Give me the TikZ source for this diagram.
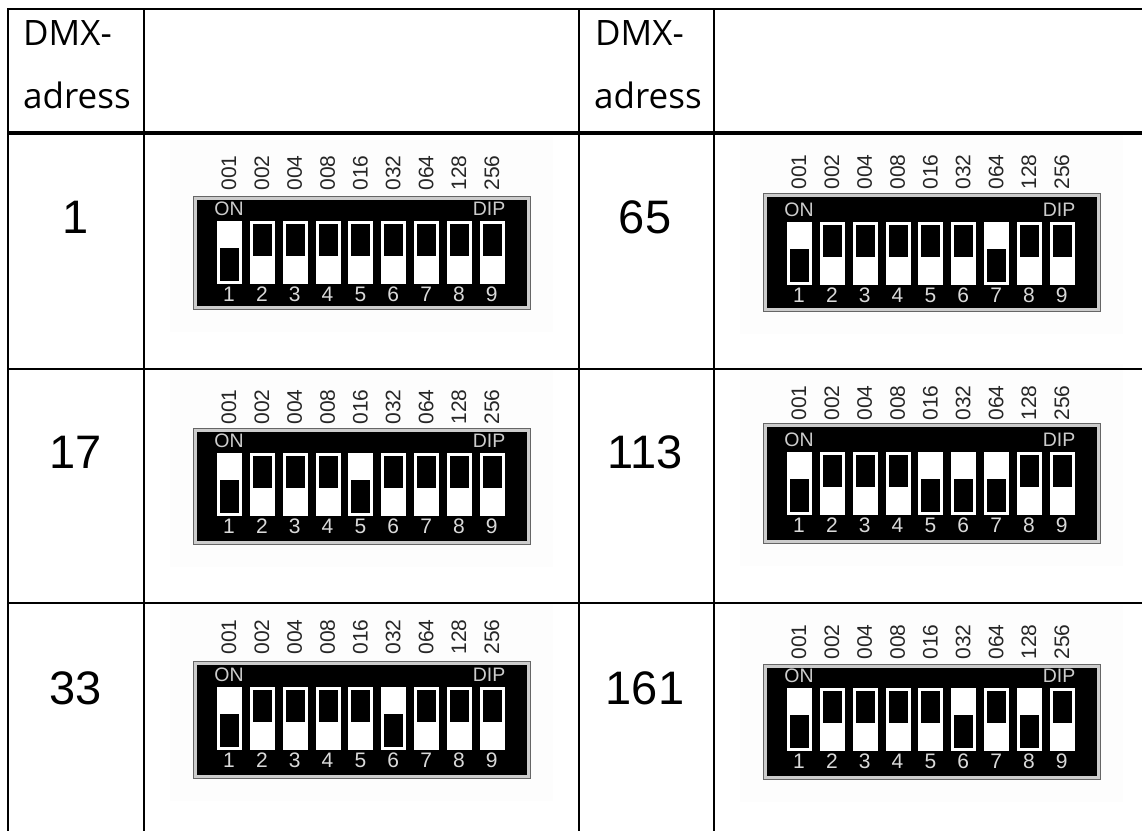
\documentclass[tikz,border=0pt]{standalone}
\usepackage{fontspec}
\setmainfont{Liberation Sans}
\newfontfamily\headfont{Open Sans}

\tikzset{
	tablerule/.style={line width=2pt,color=black},
	headrule/.style={line width=4pt,color=black},
	headtext/.style={anchor=base west,inner sep=0pt,font=\headfont\fontsize{35}{35}\selectfont},
	celltext/.style={inner sep=0pt,font=\fontsize{47}{47}\selectfont},
	weighttext/.style={rotate=90,inner sep=0pt,color=black!85,font=\fontsize{21}{21}\selectfont},
	dipnumber/.style={inner sep=0pt,color=black!15,font=\fontsize{21}{21}\selectfont},
	diptext/.style={inner sep=0pt,color=black!20,font=\fontsize{19.5}{19.5}\selectfont}
}

% name, switch x, frame top, frame bottom, switch top, weight y, switches that are on
\newcommand{\dippanel}[7]{
	\fill[color=black!0.6] ({#2-47},{#3-59}) rectangle ({#2+336},{#4+23});
	\draw[line width=1pt,color=black!60,fill=black!20] ({#2-24},#3) rectangle ({#2+313},#4);
	\fill[color=black] ({#2-20.5},{#3+3.5}) rectangle ({#2+309.5},{#4-3.5});
	\foreach \i/\weight in {1/001,2/002,3/004,4/008,5/016,6/032,7/064,8/128,9/256} {
		\node[weighttext] (#1w\i) at ({#2+12+(\i-1)*32.85},#6) {\weight};
		\node[dipnumber] (#1n\i) at ({#2+12+(\i-1)*32.85},{#5+73}) {\i};
		\fill[color=white] ({#2+(\i-1)*32.85},#5) rectangle ({#2+25+(\i-1)*32.85},{#5+63});
		\fill[color=black] ({#2+3+(\i-1)*32.85},{#5+3}) rectangle ({#2+22+(\i-1)*32.85},{#5+35});
	}
	\foreach \i in {#7} {
		\fill[color=white] ({#2+(\i-1)*32.85},#5) rectangle ({#2+25+(\i-1)*32.85},{#5+63});
		\fill[color=black] ({#2+3+(\i-1)*32.85},{#5+27}) rectangle ({#2+22+(\i-1)*32.85},{#5+60});
	}
	\node[diptext] (#1on) at ({#2+12},{#5-12}) {ON};
	\node[diptext] (#1dip) at ({#2+272},{#5-12}) {DIP};
}

\begin{document}
\begin{tikzpicture}[x=1pt,y=-1pt]
	\useasboundingbox (0,0) rectangle (1142,831);
	\fill[color=white] (0,0) rectangle (1142,831);

	\dippanel{a}{217}{196}{309}{221}{173}{1}
	\dippanel{b}{787}{193}{311}{222}{172}{1,7}
	\dippanel{c}{217}{428}{544}{453}{407}{1,5}
	\dippanel{d}{787}{423}{543}{452}{403}{1,5,6,7}
	\dippanel{e}{217}{661}{778}{687}{637}{1,6}
	\dippanel{f}{787}{664}{779}{688}{642}{1,6,8}

	% table lines
	\draw[tablerule] (7,9) -- (1142,9);
	\draw[headrule] (7,132.5) -- (1142,132.5);
	\draw[tablerule] (7,368.5) -- (1142,368.5);
	\draw[tablerule] (7,602.5) -- (1142,602.5);
	\foreach \x in {8,144,579,714}
		\draw[tablerule] (\x,9) -- (\x,831);

	% table texts
	\node[headtext] (dmxa) at (23,45) {DMX-};
	\node[headtext] (adra) at (23,108) {adress};
	\node[headtext] (dmxb) at (595,45) {DMX-};
	\node[headtext] (adrb) at (594,108) {adress};
	\node[celltext] (one) at (76,217) {1};
	\node[celltext] (seventeen) at (76,452) {17};
	\node[celltext] (thirtythree) at (76,688) {33};
	\node[celltext] (sixtyfive) at (645,217) {65};
	\node[celltext] (onethirteen) at (645,452) {113};
	\node[celltext] (onesixtyone) at (645,688) {161};
\end{tikzpicture}
\end{document}
